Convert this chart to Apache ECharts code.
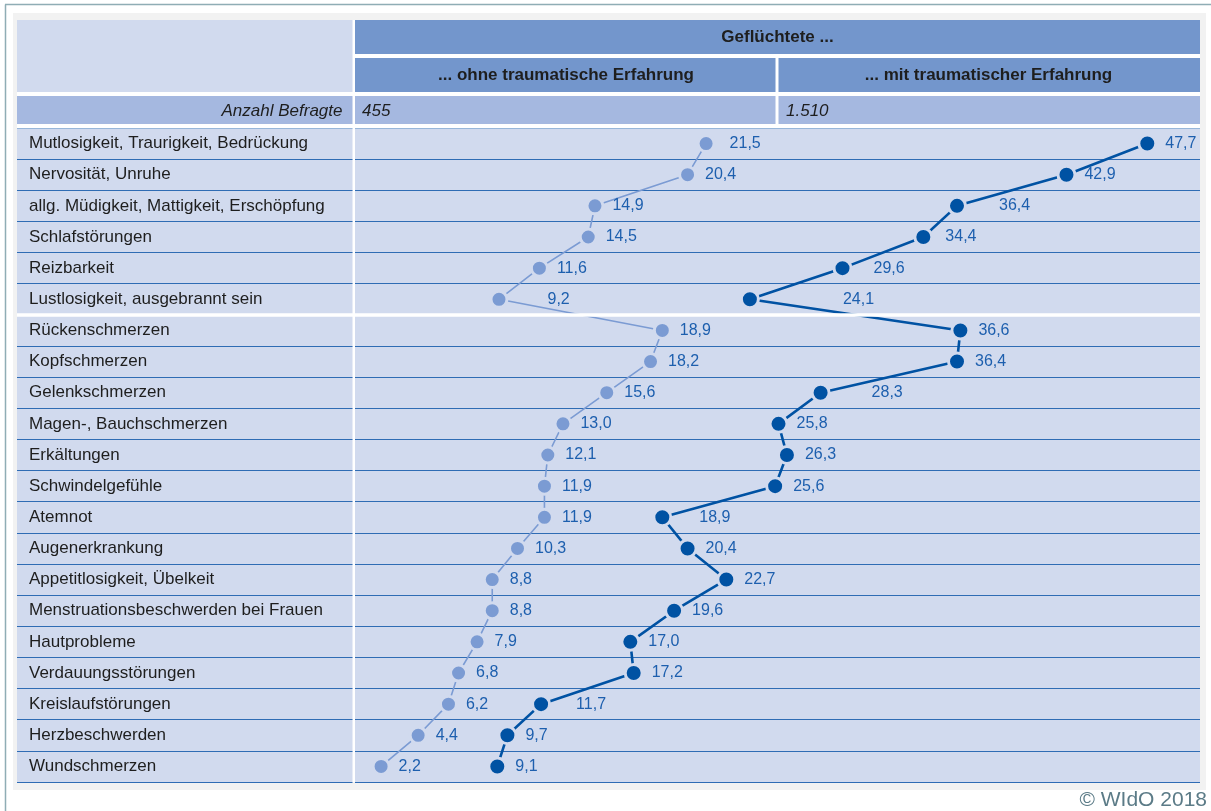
<!DOCTYPE html>
<html>
<head>
<meta charset="utf-8">
<script src="https://cdn.jsdelivr.net/npm/echarts@6/dist/echarts.min.js"></script>
<style>
html,body{margin:0;padding:0;background:#fff;}
#chart{width:1211px;height:811px;}
</style>
</head>
<body>
<div id="chart"></div>
<script>
// ---- data ----
const categories = [
  'Mutlosigkeit, Traurigkeit, Bedrückung',
  'Nervosität, Unruhe',
  'allg. Müdigkeit, Mattigkeit, Erschöpfung',
  'Schlafstörungen',
  'Reizbarkeit',
  'Lustlosigkeit, ausgebrannt sein',
  'Rückenschmerzen',
  'Kopfschmerzen',
  'Gelenkschmerzen',
  'Magen-, Bauchschmerzen',
  'Erkältungen',
  'Schwindelgefühle',
  'Atemnot',
  'Augenerkrankung',
  'Appetitlosigkeit, Übelkeit',
  'Menstruationsbeschwerden bei Frauen',
  'Hautprobleme',
  'Verdauungsstörungen',
  'Kreislaufstörungen',
  'Herzbeschwerden',
  'Wundschmerzen'
];
const ohneTrauma = [21.5, 20.4, 14.9, 14.5, 11.6, 9.2, 18.9, 18.2, 15.6, 13.0, 12.1, 11.9, 11.9, 10.3, 8.8, 8.8, 7.9, 6.8, 6.2, 4.4, 2.2];
const mitTrauma  = [47.7, 42.9, 36.4, 34.4, 29.6, 24.1, 36.6, 36.4, 28.3, 25.8, 26.3, 25.6, 18.9, 20.4, 22.7, 19.6, 17.0, 17.2, 11.7, 9.7, 9.1];
const headerTitle = 'Geflüchtete ...';
const groupNames = ['... ohne traumatische Erfahrung', '... mit traumatischer Erfahrung'];
const countLabel = 'Anzahl Befragte';
const counts = ['455', '1.510'];
const copyright = '© WIdO 2018';

// ---- style / layout ----
const FONT = '"Liberation Sans", Arial, sans-serif';
const C_HEAD = '#7396cc';
const C_COUNT = '#a5b8e0';
const C_LIGHTBG = '#d1daee';
const C_SEP = '#2f6cb4';
const C_DARK = '#0052a3';
const C_LIGHT = '#7b9bd3';
const C_VAL = '#1d5fae';
const L = 17, LCR = 352.5, PL = 355, PR = 1200, MID = 777;
const TOP = 128, BOT = 782;
const ROWH = (BOT - TOP) / categories.length;
const BASE_DIST = 8;
// extra label distance for a few crowded points (styling only)
const lightLabelShift = {0: 6, 5: 31};
const darkLabelShift = {2: 24, 3: 4, 4: 13, 5: 75, 8: 33, 12: 19, 18: 17};

function fmt(v){ return v.toFixed(1).replace('.', ','); }
function buildData(vals, shifts){
  return vals.map((v, i) => {
    const d = {value: [v, categories[i]]};
    if (shifts[i] != null) d.label = {distance: BASE_DIST + shifts[i]};
    return d;
  });
}

const chart = echarts.init(document.getElementById('chart'), null, {renderer: 'canvas'});

const graphics = [
  {type:'rect', shape:{x:0,y:0,width:1211,height:811}, style:{fill:'#fff'}, z:-10, silent:true},
  {type:'line', shape:{x1:5,y1:4.5,x2:1211,y2:4.5}, style:{stroke:'#8fadb5', lineWidth:1.5}, z:-9},
  {type:'line', shape:{x1:5.5,y1:4.5,x2:5.5,y2:811}, style:{stroke:'#8fadb5', lineWidth:1.5}, z:-9},
  {type:'rect', shape:{x:13,y:13,width:1193,height:777}, style:{fill:'#f2f2f2'}, z:-8},
  {type:'rect', shape:{x:L,y:20,width:1200-L,height:BOT-20}, style:{fill:'#ffffff'}, z:-7},
  // header cells
  {type:'rect', shape:{x:L,y:20,width:LCR-L,height:72}, style:{fill:C_LIGHTBG}, z:-6},
  {type:'rect', shape:{x:PL,y:20,width:PR-PL,height:34}, style:{fill:C_HEAD}, z:-6},
  {type:'rect', shape:{x:PL,y:58,width:MID-1.5-PL,height:34}, style:{fill:C_HEAD}, z:-6},
  {type:'rect', shape:{x:MID+1.5,y:58,width:PR-MID-1.5,height:34}, style:{fill:C_HEAD}, z:-6},
  {type:'rect', shape:{x:L,y:96,width:LCR-L,height:28}, style:{fill:C_COUNT}, z:-6},
  {type:'rect', shape:{x:PL,y:96,width:MID-1.5-PL,height:28}, style:{fill:C_COUNT}, z:-6},
  {type:'rect', shape:{x:MID+1.5,y:96,width:PR-MID-1.5,height:28}, style:{fill:C_COUNT}, z:-6},
  // header texts
  {type:'text', x:(PL+PR)/2, y:37, style:{text:headerTitle, font:'bold 17px '+FONT, fill:'#1e1e1e', textAlign:'center', textVerticalAlign:'middle'}, z:5},
  {type:'text', x:(PL+MID)/2, y:75, style:{text:groupNames[0], font:'bold 17px '+FONT, fill:'#1e1e1e', textAlign:'center', textVerticalAlign:'middle'}, z:5},
  {type:'text', x:(MID+PR)/2, y:75, style:{text:groupNames[1], font:'bold 17px '+FONT, fill:'#1e1e1e', textAlign:'center', textVerticalAlign:'middle'}, z:5},
  {type:'text', x:LCR-10, y:111, style:{text:countLabel, font:'italic 17px '+FONT, fill:'#1e1e1e', textAlign:'right', textVerticalAlign:'middle'}, z:5},
  {type:'text', x:PL+7, y:111, style:{text:counts[0], font:'italic 17px '+FONT, fill:'#1e1e1e', textAlign:'left', textVerticalAlign:'middle'}, z:5},
  {type:'text', x:MID+9, y:111, style:{text:counts[1], font:'italic 17px '+FONT, fill:'#1e1e1e', textAlign:'left', textVerticalAlign:'middle'}, z:5},
  // white band covering top split line, and white separator between the two symptom blocks
  {type:'rect', shape:{x:L,y:TOP-4,width:PR-L,height:4.6}, style:{fill:'#ffffff'}, z:50},
  {type:'rect', shape:{x:L,y:TOP+6*ROWH-1.6,width:PR-L,height:3.4}, style:{fill:'#ffffff'}, z:50},
  // copyright
  {type:'text', x:1207, y:800, style:{text:copyright, font:'21px "Liberation Sans", Arial, sans-serif', fill:'#5b7b87', textAlign:'right', textVerticalAlign:'middle'}, z:5}
];

const option = {
  animation: false,
  backgroundColor: '#ffffff',
  textStyle: {fontFamily: FONT},
  graphic: graphics,
  grid: [
    {left: L, top: TOP, width: LCR - L, height: BOT - TOP, show: true, backgroundColor: C_LIGHTBG, borderWidth: 0, containLabel: false},
    {left: PL, top: TOP, width: PR - PL, height: BOT - TOP, show: true, backgroundColor: C_LIGHTBG, borderWidth: 0, containLabel: false}
  ],
  xAxis: [
    {gridIndex: 0, type: 'value', min: 0, max: 1, show: false},
    {gridIndex: 1, type: 'value', min: 0.65, max: 50.83, show: false}
  ],
  yAxis: [
    {gridIndex: 0, type: 'category', data: categories, inverse: true, boundaryGap: true,
     axisLine: {show: false}, axisTick: {show: false},
     axisLabel: {inside: true, margin: 12, align: 'left', color: '#1e1e1e', fontSize: 17, fontFamily: FONT},
     splitLine: {show: true, lineStyle: {color: C_SEP, width: 1.2}}},
    {gridIndex: 1, type: 'category', data: categories, inverse: true, boundaryGap: true,
     axisLine: {show: false}, axisTick: {show: false}, axisLabel: {show: false},
     splitLine: {show: true, lineStyle: {color: C_SEP, width: 1.2}}}
  ],
  series: [
    {
      name: groupNames[0], type: 'line', xAxisIndex: 1, yAxisIndex: 1,
      data: buildData(ohneTrauma, lightLabelShift),
      symbol: 'circle', symbolSize: 16,
      lineStyle: {color: C_LIGHT, width: 1.6},
      itemStyle: {color: C_LIGHT, borderColor: C_LIGHTBG, borderWidth: 3},
      label: {show: true, position: 'right', distance: BASE_DIST, color: C_VAL, fontSize: 16, fontFamily: FONT,
              formatter: p => fmt(p.value[0])},
      z: 3
    },
    {
      name: groupNames[1], type: 'line', xAxisIndex: 1, yAxisIndex: 1,
      data: buildData(mitTrauma, darkLabelShift),
      symbol: 'circle', symbolSize: 17,
      lineStyle: {color: C_DARK, width: 2.6},
      itemStyle: {color: C_DARK, borderColor: C_LIGHTBG, borderWidth: 3},
      label: {show: true, position: 'right', distance: BASE_DIST, color: C_VAL, fontSize: 16, fontFamily: FONT,
              formatter: p => fmt(p.value[0])},
      z: 4
    }
  ]
};
chart.setOption(option);
</script>
</body>
</html>
